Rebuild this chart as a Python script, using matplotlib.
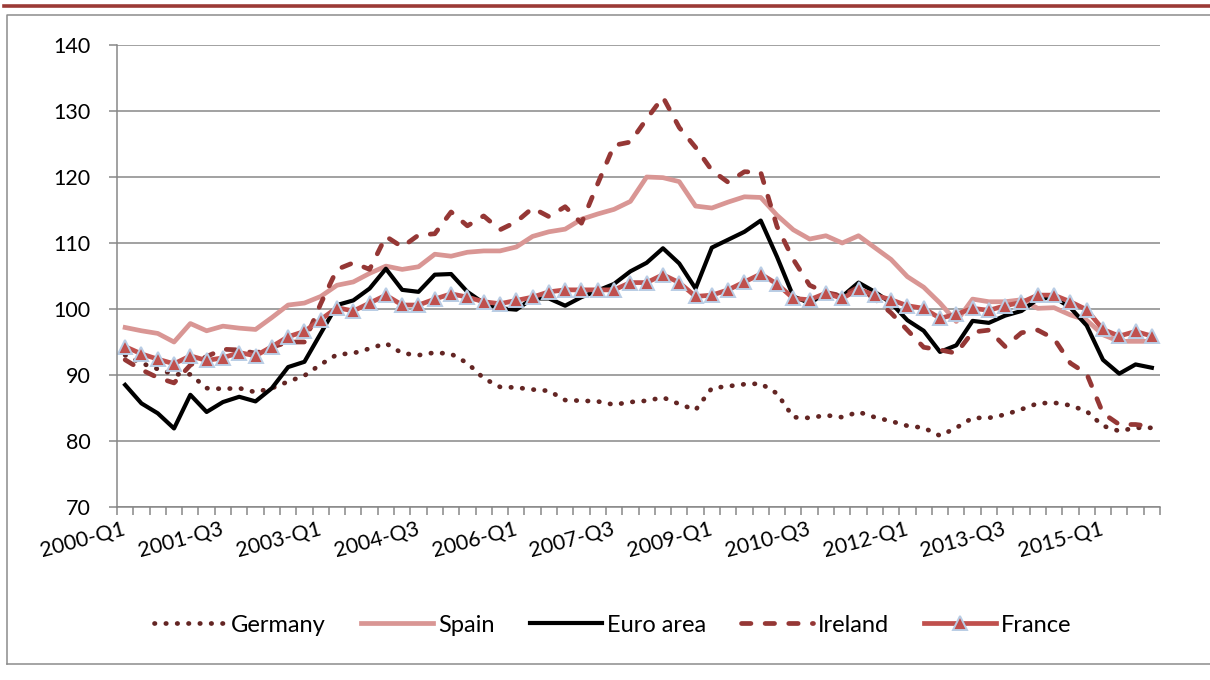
import matplotlib
matplotlib.use("Agg")
import matplotlib.pyplot as plt
from matplotlib.lines import Line2D
import numpy as np

# --- DATOS (indice 2000 = ~100) ---

quarters = [f"{y}-Q{q}" for y in range(2000, 2016) for q in range(1, 5)]
tick_labels = ["2000-Q1", "2001-Q3", "2003-Q1", "2004-Q3", "2006-Q1", "2007-Q3",
               "2009-Q1", "2010-Q3", "2012-Q1", "2013-Q3", "2015-Q1"]

germany = [93.0, 91.8, 90.9, 90.1, 90.1, 88.0, 87.9, 88.0, 87.4, 88.0, 89.0, 89.9,
           91.6, 93.1, 93.3, 94.0, 94.8, 93.3, 93.0, 93.4, 93.2, 91.8, 89.5, 88.2,
           88.1, 87.8, 87.6, 86.2, 86.1, 86.0, 85.5, 85.9, 86.1, 86.6, 85.6, 84.7,
           88.0, 88.3, 88.6, 88.7, 87.2, 83.6, 83.5, 83.9, 83.6, 84.4, 83.6, 83.0,
           82.3, 82.0, 80.8, 82.0, 83.5, 83.5, 84.0, 84.8, 85.7, 85.8, 85.4, 84.5,
           82.3, 81.5, 82.0, 82.0]

spain = [97.2, 96.7, 96.3, 95.0, 97.8, 96.7, 97.4, 97.1, 96.9, 98.7, 100.6, 100.9,
         101.9, 103.6, 104.1, 105.4, 106.5, 106.0, 106.4, 108.3, 108.0, 108.6, 108.8, 108.8,
         109.4, 111.0, 111.7, 112.1, 113.6, 114.4, 115.1, 116.3, 120.0, 119.9, 119.3, 115.6,
         115.3, 116.2, 117.0, 116.9, 114.2, 112.0, 110.6, 111.1, 110.0, 111.1, 109.3, 107.5,
         104.9, 103.3, 100.9, 98.1, 101.5, 101.1, 101.1, 101.4, 100.1, 100.2, 99.1, 98.3,
         96.1, 95.1, 95.1, 95.1]

euro_area = [88.5, 85.7, 84.2, 81.9, 87.0, 84.4, 85.9, 86.7, 86.0, 88.0, 91.2, 92.0,
             96.3, 100.6, 101.3, 103.1, 106.1, 102.9, 102.6, 105.2, 105.3, 102.6, 100.9, 100.1,
             99.9, 101.6, 101.6, 100.5, 101.8, 102.8, 103.8, 105.7, 107.0, 109.2, 106.9, 103.1,
             109.3, 110.5, 111.7, 113.4, 107.9, 101.9, 100.9, 102.4, 101.9, 104.0, 102.6, 100.9,
             98.3, 96.7, 93.5, 94.5, 98.2, 97.9, 99.0, 99.7, 101.5, 101.8, 100.2, 97.5,
             92.3, 90.2, 91.6, 91.1]

ireland = [92.3, 90.8, 89.6, 88.8, 91.5, 92.8, 93.9, 93.8, 93.3, 94.2, 95.0, 95.0,
           100.8, 106.0, 107.0, 106.0, 111.0, 109.4, 111.2, 111.4, 114.7, 112.6, 114.1, 112.0,
           113.2, 115.3, 114.0, 115.5, 113.0, 119.0, 124.8, 125.3, 128.8, 132.1, 127.5, 124.5,
           121.0, 119.2, 120.8, 120.7, 112.5, 107.5, 103.6, 102.5, 102.0, 103.3, 101.5, 99.4,
           96.8, 94.2, 93.8, 93.3, 96.5, 96.8, 94.3, 96.4, 96.8, 95.5, 91.8, 90.2,
           84.2, 82.5, 82.5, 82.2]

france = [94.3, 93.2, 92.4, 91.7, 92.9, 92.2, 92.6, 93.4, 92.9, 94.3, 95.8, 96.6,
          98.4, 100.2, 99.7, 100.9, 102.1, 100.6, 100.6, 101.5, 102.3, 101.8, 101.1, 100.8,
          101.3, 101.8, 102.6, 102.9, 102.9, 102.9, 102.9, 104.0, 104.0, 105.2, 104.0, 101.9,
          102.1, 102.9, 104.1, 105.3, 103.8, 101.6, 101.4, 102.4, 101.6, 103.0, 102.1, 101.4,
          100.5, 100.1, 98.6, 99.2, 100.1, 99.8, 100.5, 101.0, 102.1, 102.1, 101.1, 99.9,
          96.9, 95.9, 96.6, 95.9]

# --- ESTILO ---

plt.rcParams['font.family'] = ['Lato', 'DejaVu Sans']
gris = '#878787'

fig = plt.figure(figsize=(12.1, 6.8), dpi=100)

# marco exterior y linea roja superior
fig.add_artist(Line2D([0.003, 1.0], [1 - 5.5 / 680] * 2, color='#9B3A36', lw=2.6,
                      transform=fig.transFigure))
fig.add_artist(Line2D([7 / 1210, 7 / 1210, 1.0], [1 - 664 / 680, 1 - 15 / 680, 1 - 15 / 680],
                      color='#8C8C8C', lw=1.1, transform=fig.transFigure))
fig.add_artist(Line2D([7 / 1210, 1.0], [1 - 664 / 680] * 2,
                      color='#8C8C8C', lw=1.1, transform=fig.transFigure))

ax = fig.add_axes([117 / 1210, 1 - 507 / 680, (1160 - 117) / 1210, (507 - 45) / 680])

x = np.arange(len(quarters))

ax.plot(x, germany, color='#632523', lw=3.4, linestyle=(0, (0.1, 2.3)),
        dash_capstyle='round', label='Germany')
ax.plot(x, spain, color='#D99694', lw=3.4, label='Spain')
ax.plot(x, euro_area, color='black', lw=3.0, label='Euro area')
ax.plot(x, ireland, color='#953735', lw=3.4, linestyle=(0, (2.0, 3.0)),
        dash_capstyle='round', label='Ireland')
ax.plot(x, france, color='#C0504D', lw=3.4, marker='^', markersize=10,
        markerfacecolor='#C0504D', markeredgecolor='#B9CDE5', markeredgewidth=1.4,
        label='France')

# ejes
ax.set_ylim(70, 140)
ax.set_yticks(np.arange(70, 141, 10))
ax.set_xlim(-0.5, len(quarters) - 0.5)
ax.grid(axis='y', color=gris, lw=1.1)
ax.set_axisbelow(True)

for s in ['top', 'right']:
    ax.spines[s].set_visible(False)
for s in ['left', 'bottom']:
    ax.spines[s].set_color(gris)
    ax.spines[s].set_linewidth(1.1)

ax.tick_params(axis='y', length=6, width=1.1, color=gris, pad=13, labelsize=15.5)

# marcas entre categorias, etiquetas cada 6 trimestres
ax.set_xticks(np.arange(-0.5, len(quarters), 1))
ax.set_xticklabels([])
ax.tick_params(axis='x', which='major', length=6, width=1.1, color=gris)
ax.set_xticks([quarters.index(t) for t in tick_labels], minor=True)
ax.set_xticklabels(tick_labels, minor=True, fontsize=15.5)
ax.tick_params(axis='x', which='minor', length=0, pad=16)
for lbl in ax.get_xticklabels(minor=True):
    lbl.set_rotation(15)
    lbl.set_ha('right')
    lbl.set_va('center')
    lbl.set_rotation_mode('anchor')

fig.legend(loc='center', bbox_to_anchor=(613 / 1210, 1 - 625 / 680), ncol=5,
           frameon=False, fontsize=17, handlelength=3.05, handletextpad=0.2,
           columnspacing=1.5)

fig.savefig('out.png', dpi=100)
